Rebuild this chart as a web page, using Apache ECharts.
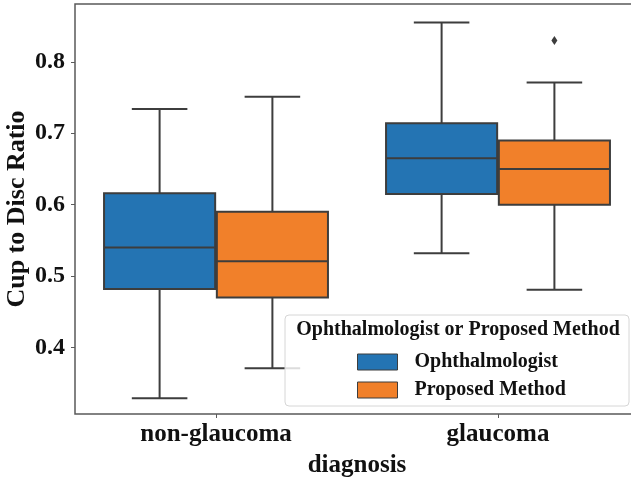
<!DOCTYPE html>
<html><head><meta charset="utf-8">
<script src="https://cdn.jsdelivr.net/npm/echarts@6/dist/echarts.min.js"></script>
<style>html,body{margin:0;padding:0;background:#fff}#c{width:631px;height:477px}</style>
</head><body><div id="c"></div>
<script>
// categories and hue groups
const categories = ['non-glaucoma', 'glaucoma'];
const hueNames = ['Ophthalmologist', 'Proposed Method'];
// [low whisker, Q1, median, Q3, high whisker] per category
const ophthalmologist = [
  [0.329, 0.482, 0.540, 0.616, 0.734],
  [0.532, 0.615, 0.665, 0.714, 0.855]
];
const proposed = [
  [0.371, 0.470, 0.521, 0.590, 0.751],
  [0.481, 0.600, 0.650, 0.690, 0.771]
];
// outliers: [category index, value]
const proposedOutliers = [[1, 0.830]];
const yTicks = [0.4, 0.5, 0.6, 0.7, 0.8];
const yMin = 0.307, yMax = 0.881;

const colors = ['#2474b3', '#f1802a'];
const lineColor = '#3d3d3d';
const FONT = '"Liberation Serif", "Times New Roman", serif';

function boxRender(offsetFrac, fill) {
  return function (params, api) {
    const cat = api.value(0);
    const band = api.size([1, 0])[0];
    const cx = api.coord([cat, 0])[0] + offsetFrac * band;
    const w = band * 0.4 * 0.985;
    const yLo = api.coord([cat, api.value(1)])[1];
    const yQ1 = api.coord([cat, api.value(2)])[1];
    const yMed = api.coord([cat, api.value(3)])[1];
    const yQ3 = api.coord([cat, api.value(4)])[1];
    const yHi = api.coord([cat, api.value(5)])[1];
    const ls = { stroke: lineColor, lineWidth: 2 };
    const cap = w / 4;
    return {
      type: 'group',
      children: [
        { type: 'line', shape: { x1: cx, y1: yLo, x2: cx, y2: yQ1 }, style: ls },
        { type: 'line', shape: { x1: cx, y1: yQ3, x2: cx, y2: yHi }, style: ls },
        { type: 'line', shape: { x1: cx - cap, y1: yLo, x2: cx + cap, y2: yLo }, style: ls },
        { type: 'line', shape: { x1: cx - cap, y1: yHi, x2: cx + cap, y2: yHi }, style: ls },
        { type: 'rect', shape: { x: cx - w / 2, y: yQ3, width: w, height: yQ1 - yQ3 },
          style: { fill: fill, stroke: lineColor, lineWidth: 2 } },
        { type: 'line', shape: { x1: cx - w / 2, y1: yMed, x2: cx + w / 2, y2: yMed }, style: ls }
      ]
    };
  };
}
function outlierRender(offsetFrac) {
  return function (params, api) {
    const cat = api.value(0);
    const band = api.size([1, 0])[0];
    const cx = api.coord([cat, 0])[0] + offsetFrac * band;
    const cy = api.coord([cat, api.value(1)])[1];
    return {
      type: 'polygon',
      shape: { points: [[cx, cy - 4.5], [cx + 3, cy], [cx, cy + 4.5], [cx - 3, cy]] },
      style: { fill: lineColor }
    };
  };
}

const toData = (arr) => arr.map((v, i) => [i].concat(v));

const chart = echarts.init(document.getElementById('c'));
chart.setOption({
  animation: false,
  backgroundColor: '#fff',
  grid: { left: 75, top: 4, width: 564, height: 410, show: true, containLabel: false,
          outerBoundsMode: 'none',
          borderColor: '#5a5a5a', borderWidth: 1.5, backgroundColor: 'transparent' },
  xAxis: {
    type: 'category', data: categories, boundaryGap: true,
    name: 'diagnosis', nameLocation: 'middle', nameGap: 39, nameMoveOverlap: false,
    nameTextStyle: { fontFamily: FONT, fontWeight: 'bold', fontSize: 25, color: '#111' },
    axisLine: { show: false },
    axisTick: { show: true, alignWithLabel: true, length: 4, lineStyle: { color: '#5a5a5a', width: 1 } },
    axisLabel: { fontFamily: FONT, fontWeight: 'bold', fontSize: 25, color: '#111', margin: 8 },
    splitLine: { show: false }
  },
  yAxis: {
    type: 'value', min: yMin, max: yMax,
    name: 'Cup to Disc Ratio', nameLocation: 'middle', nameGap: 45, nameMoveOverlap: false,
    nameTextStyle: { fontFamily: FONT, fontWeight: 'bold', fontSize: 26, color: '#111' },
    axisLine: { show: false },
    axisTick: { show: true, length: 4, customValues: yTicks, lineStyle: { color: '#5a5a5a', width: 1 } },
    axisLabel: { customValues: yTicks, formatter: (v) => v.toFixed(1),
                 fontFamily: FONT, fontWeight: 'bold', fontSize: 24, color: '#111', margin: 10 },
    splitLine: { show: false }
  },
  legend: {
    orient: 'vertical', left: 352, top: 347, itemWidth: 40, itemHeight: 16, itemGap: 8,
    icon: 'rect', z: 20,
    data: hueNames.map((n, i) => ({ name: n, itemStyle: { color: colors[i], borderColor: lineColor, borderWidth: 1 } })),
    textStyle: { fontFamily: FONT, fontWeight: 'bold', fontSize: 20, color: '#111', lineHeight: 20, padding: [0, 0, 0, 12] },
    selectedMode: false
  },
  graphic: [
    { type: 'rect', z: 10, shape: { x: 285, y: 315, width: 344, height: 91, r: 4 },
      style: { fill: 'rgba(255,255,255,0.82)', stroke: '#d6d6d6', lineWidth: 1 } },
    { type: 'text', z: 11, x: 458, y: 330,
      style: { text: 'Ophthalmologist or Proposed Method', fontFamily: FONT, fontWeight: 'bold',
               fontSize: 20, fill: '#111', align: 'center', verticalAlign: 'middle' } }
  ],
  series: [
    { name: hueNames[0], type: 'custom', data: toData(ophthalmologist),
      encode: { x: 0, y: [1, 2, 3, 4, 5] }, renderItem: boxRender(-0.2, colors[0]),
      itemStyle: { color: colors[0] } },
    { name: hueNames[1], type: 'custom', data: toData(proposed),
      encode: { x: 0, y: [1, 2, 3, 4, 5] }, renderItem: boxRender(0.2, colors[1]),
      itemStyle: { color: colors[1] } },
    { name: 'outliers', type: 'custom', data: proposedOutliers,
      encode: { x: 0, y: 1 }, renderItem: outlierRender(0.2) }
  ]
});
</script></body></html>
